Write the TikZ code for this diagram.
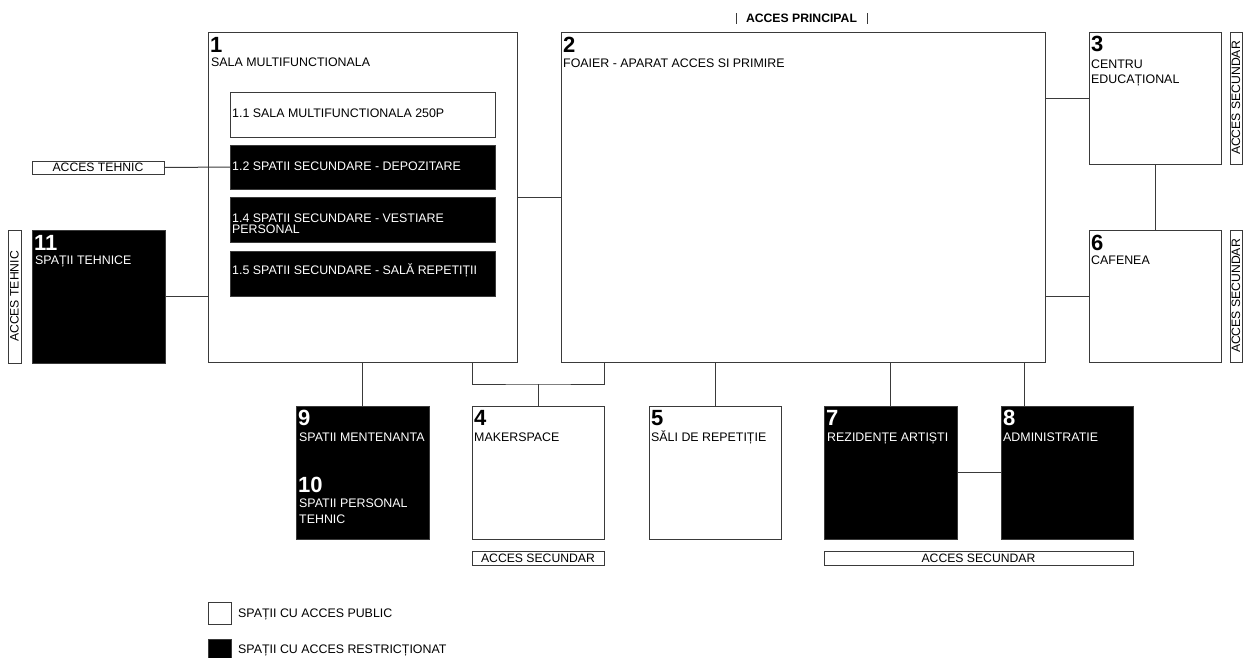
\documentclass[tikz,border=0pt]{standalone}
\usepackage{fontspec}
\setmainfont{Liberation Sans}
\usetikzlibrary{calc}
\definecolor{lc}{HTML}{3A3A3A}
\begin{document}
\begin{tikzpicture}[x=1pt,y=-1pt,
  box/.style={draw=lc,line width=1pt,inner sep=0pt,outer sep=0pt,anchor=north west,fill=white},
  dark/.style={box,fill=black},
  sz/.style 2 args={minimum width=#1pt,minimum height=#2pt},
  num/.style={font=\fontsize{22}{22}\selectfont\bfseries,inner sep=0pt,anchor=base west},
  lbl/.style={font=\fontsize{12.4}{12.4}\selectfont,inner sep=0pt,anchor=base west},
  acc/.style={draw=lc,line width=1pt,inner sep=0pt,outer sep=0pt,font=\fontsize{12.2}{12.2}\selectfont,fill=white},
  link/.style={draw=lc,line width=1pt}]
\useasboundingbox (0,0) rectangle (1243,657);

% 1
\node[box,sz={309}{330}] (b1) at (208,32) {};
\node[num] (n1) at ($(b1.north west)+(2,20)$) {1};
\node[lbl] (t1) at ($(b1.north west)+(3,34)$) {SALA MULTIFUNCTIONALA};
\node[box,sz={265}{45}] (s11) at (230,92) {};
\node[lbl] (t11) at ($(s11.north west)+(2,25)$) {1.1 SALA MULTIFUNCTIONALA 250P};
\node[dark,sz={265}{44}] (s12) at (230,145) {};
\node[lbl,text=white] (t12) at ($(s12.north west)+(2,25)$) {1.2 SPATII SECUNDARE - DEPOZITARE};
\node[dark,sz={265}{45}] (s14) at (230,197) {};
\node[lbl,text=white] (t14a) at ($(s14.north west)+(2,25.5)$) {1.4 SPATII SECUNDARE - VESTIARE};
\node[lbl,text=white] (t14b) at ($(s14.north west)+(2,36)$) {PERSONAL};
\node[dark,sz={265}{45}] (s15) at (230,251) {};
\node[lbl,text=white] (t15) at ($(s15.north west)+(2,23)$) {1.5 SPATII SECUNDARE - SALĂ REPETIȚII};

% 2
\node[box,sz={484}{330}] (b2) at (561,32) {};
\node[num] (n2) at ($(b2.north west)+(2,20)$) {2};
\node[lbl] (t2) at ($(b2.north west)+(2,35)$) {FOAIER - APARAT ACCES SI PRIMIRE};

% 3
\node[box,sz={132}{132}] (b3) at (1089,32) {};
\node[num] (n3) at ($(b3.north west)+(2,19)$) {3};
\node[lbl] (t3a) at ($(b3.north west)+(2,36)$) {CENTRU};
\node[lbl] (t3b) at ($(b3.north west)+(2,51)$) {EDUCAȚIONAL};

% 6
\node[box,sz={132}{132}] (b6) at (1089,230) {};
\node[num] (n6) at ($(b6.north west)+(2,20)$) {6};
\node[lbl] (t6) at ($(b6.north west)+(2,34.5)$) {CAFENEA};

% 11
\node[dark,sz={133}{133}] (b11) at (32,230) {};
\node[num,text=white] (n11) at ($(b11.north west)+(2,20)$) {11};
\node[lbl,text=white] (t11b) at ($(b11.north west)+(3,34.5)$) {SPAȚII TEHNICE};

% 9 / 10
\node[dark,sz={133}{133}] (b9) at (296,406) {};
\node[num,text=white] (n9) at ($(b9.north west)+(2,19)$) {9};
\node[lbl,text=white] (t9) at ($(b9.north west)+(3,35)$) {SPATII MENTENANTA};
\node[num,text=white] (n10) at ($(b9.north west)+(2,86)$) {10};
\node[lbl,text=white] (t10a) at ($(b9.north west)+(3,101)$) {SPATII PERSONAL};
\node[lbl,text=white] (t10b) at ($(b9.north west)+(3,117)$) {TEHNIC};

% 4
\node[box,sz={132}{133}] (b4) at (472,406) {};
\node[num] (n4) at ($(b4.north west)+(2,19)$) {4};
\node[lbl] (t4) at ($(b4.north west)+(2,35)$) {MAKERSPACE};

% 5
\node[box,sz={132}{133}] (b5) at (649,406) {};
\node[num] (n5) at ($(b5.north west)+(2,19)$) {5};
\node[lbl] (t5) at ($(b5.north west)+(2,35)$) {SĂLI DE REPETIȚIE};

% 7
\node[dark,sz={133}{133}] (b7) at (824,406) {};
\node[num,text=white] (n7) at ($(b7.north west)+(2,19)$) {7};
\node[lbl,text=white] (t7) at ($(b7.north west)+(3,35)$) {REZIDENȚE ARTIȘTI};

% 8
\node[dark,sz={132}{133}] (b8) at (1001,406) {};
\node[num,text=white] (n8) at ($(b8.north west)+(2,19)$) {8};
\node[lbl,text=white] (t8) at ($(b8.north west)+(2,35)$) {ADMINISTRATIE};

% access labels
\node[acc,sz={132}{13}] (at) at (98,167.5) {ACCES TEHNIC};
\node[acc,sz={133}{13},rotate=90] (atv) at (14.5,296.5) {ACCES TEHNIC};
\node[acc,sz={132}{12},rotate=90] (as3) at (1236,98) {ACCES SECUNDAR};
\node[acc,sz={132}{12},rotate=90] (as6) at (1236,296) {ACCES SECUNDAR};
\node[acc,sz={132}{14}] (as4) at (538,558) {ACCES SECUNDAR};
\node[acc,sz={309}{14}] (as78) at (978.5,558) {ACCES SECUNDAR};
\node[inner sep=0pt,outer sep=0pt,sz={131}{11},font=\fontsize{12.2}{12.2}\selectfont\bfseries] (ap) at (801.5,18.5) {ACCES PRINCIPAL};
\draw[link] (ap.north west) -- (ap.south west) (ap.north east) -- (ap.south east);

% legend
\node[box,sz={23}{22}] (lg1) at (208,602) {};
\node[lbl] (lt1) at ($(lg1.north west)+(30,15)$) {SPAȚII CU ACCES PUBLIC};
\node[dark,sz={23}{22}] (lg2) at (208,639) {};
\node[lbl] (lt2) at ($(lg2.north west)+(30,14)$) {SPAȚII CU ACCES RESTRICȚIONAT};

% links
\draw[link] (b1) -- (b2);
\draw[link] (b3.west) -- (b3.west -| b2.east);
\draw[link] (b6.west) -- (b6.west -| b2.east);
\draw[link] (b3) -- (b6);
\draw[link] (b11.east) -- (b11.east -| b1.west);
\draw[link] (at.east) -- (s12.west);
\draw[link] (b9.north) -- (b9.north |- b1.south);
\coordinate (brk) at (538,384);
\draw[link] (b4.north west |- b1.south) |- (brk) -| (b4.north east |- b2.south);
\draw[link] (b4.north) -- (brk);
\draw[link] (b5.north) -- (b5.north |- b2.south);
\draw[link] (b7.north) -- (b7.north |- b2.south);
\coordinate (c8) at (1024,406);
\draw[link] (c8) -- (c8 |- b2.south);
\draw[link] (b7) -- (b8);
\end{tikzpicture}
\end{document}
